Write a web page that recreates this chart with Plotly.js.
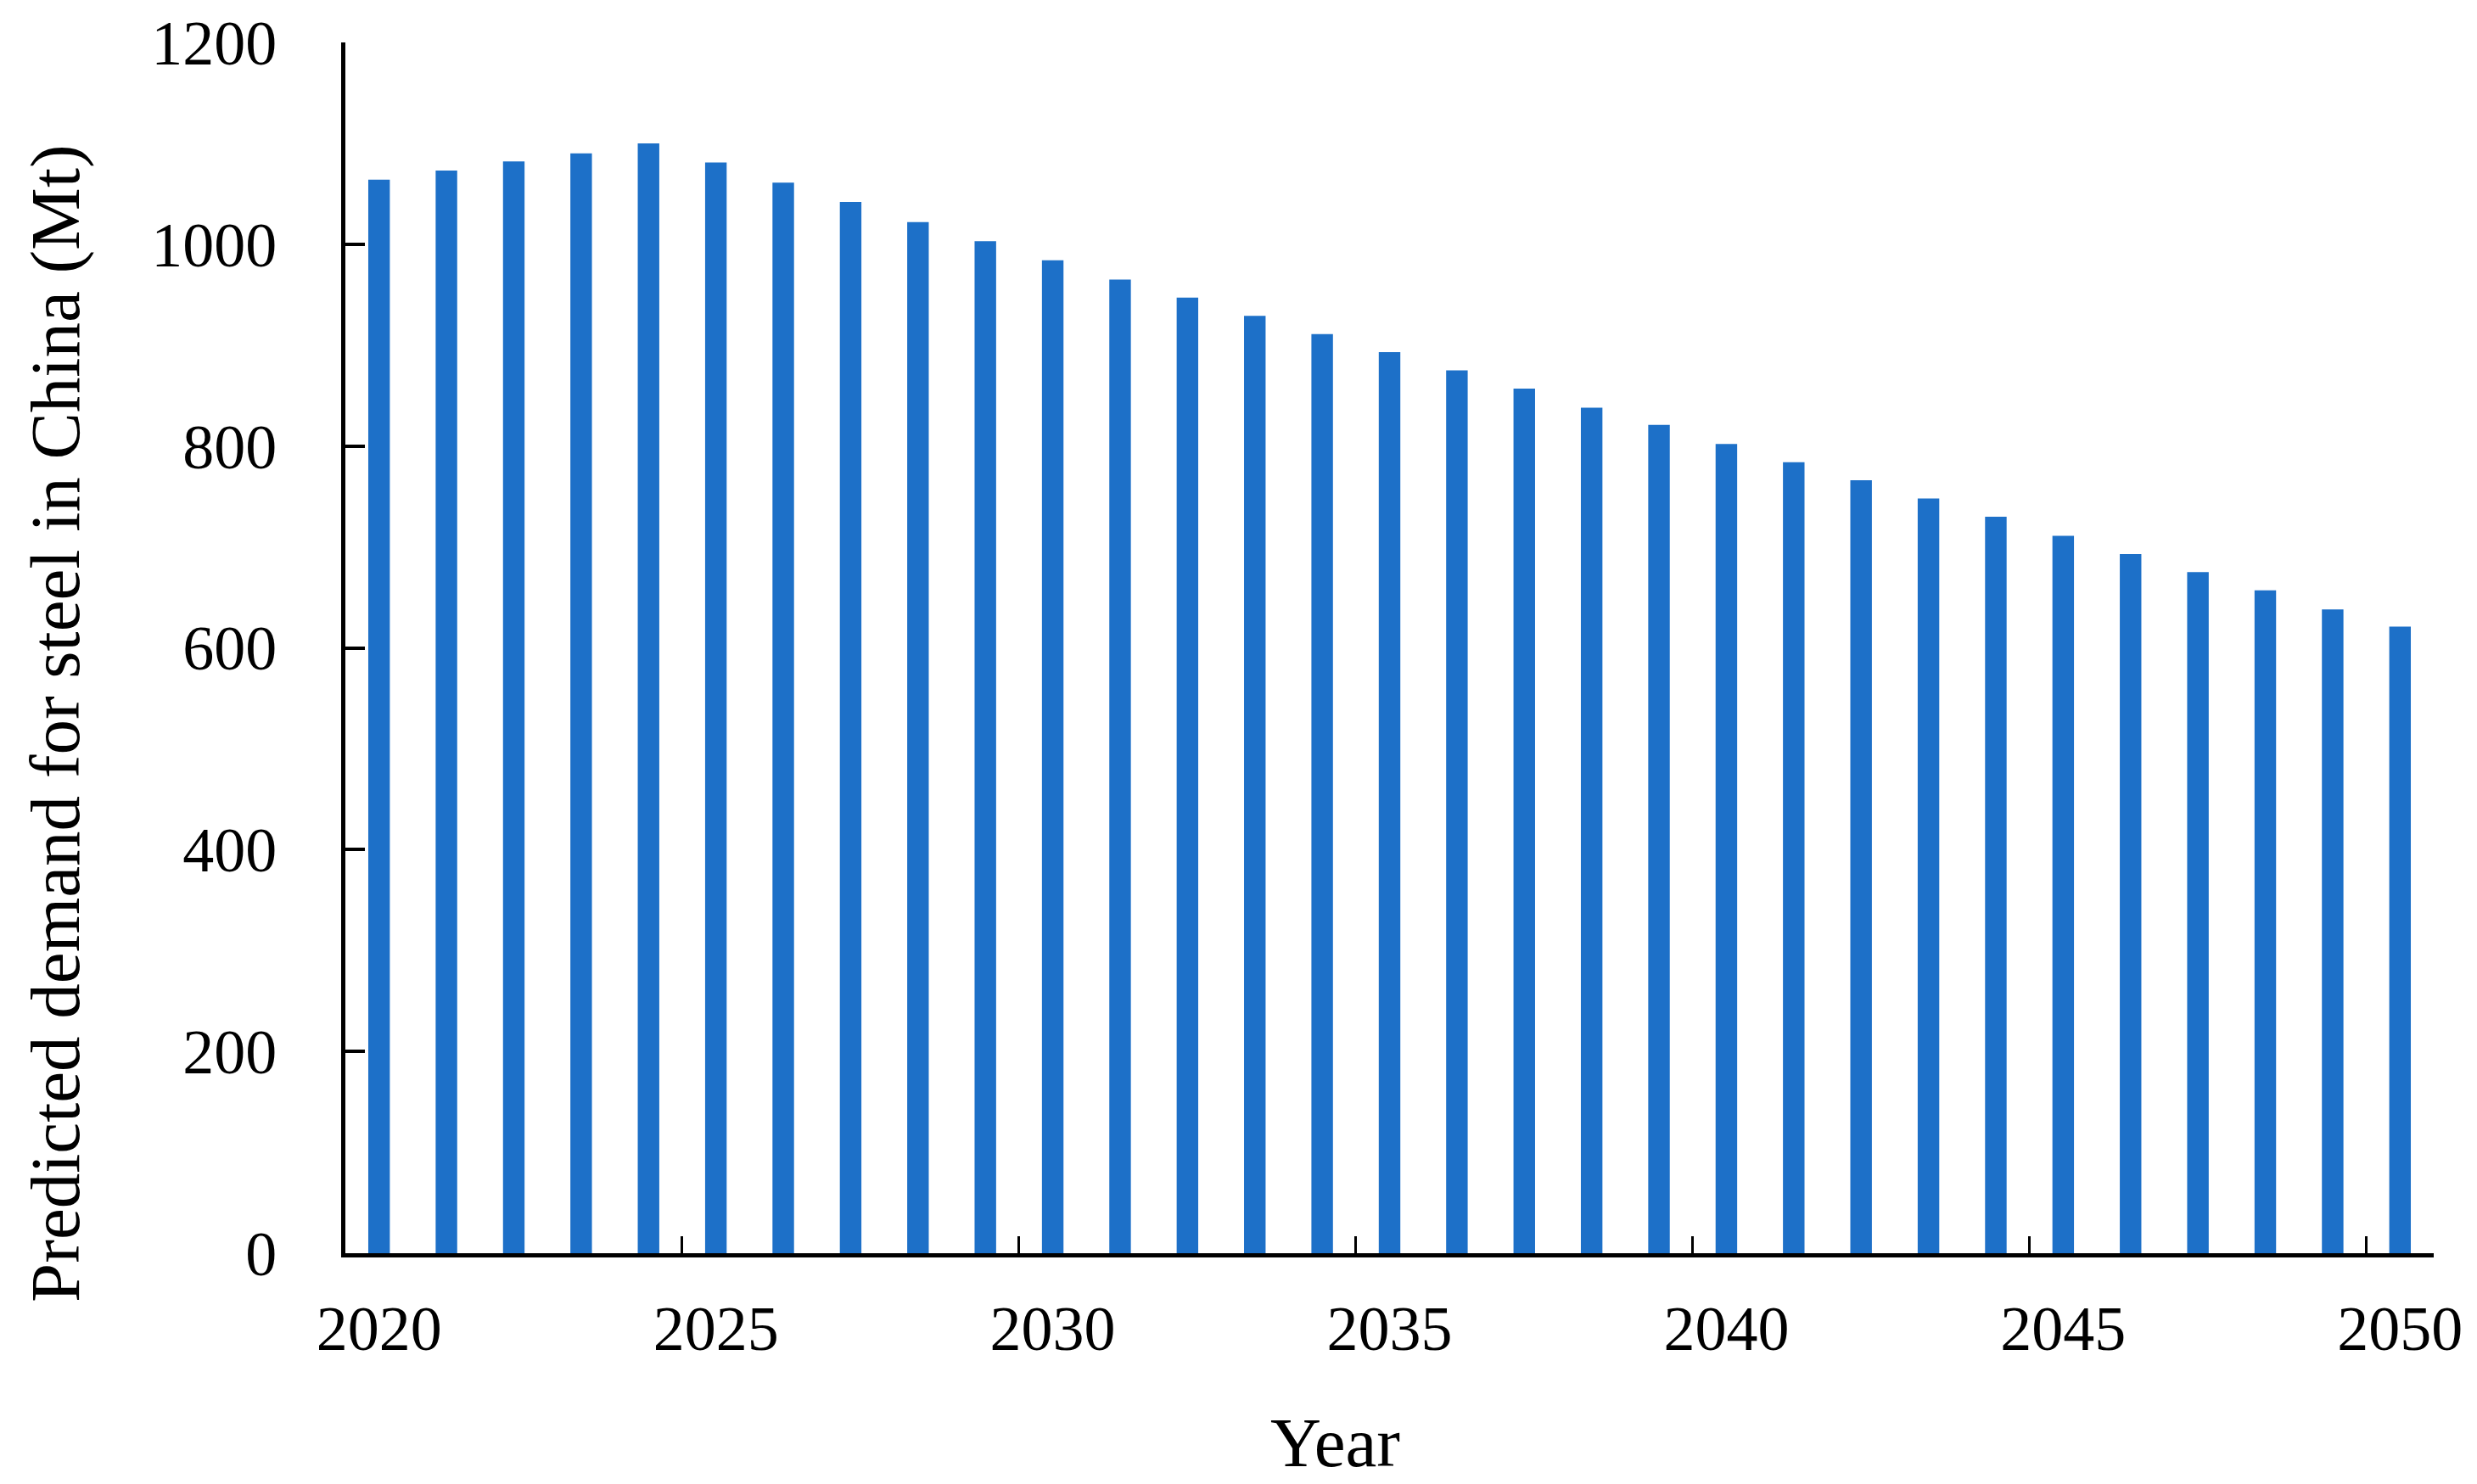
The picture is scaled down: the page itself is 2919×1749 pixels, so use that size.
<!DOCTYPE html>
<html>
<head>
<meta charset="utf-8">
<script src="https://cdn.plot.ly/plotly-3.0.1.min.js"></script>
<style>html,body{margin:0;padding:0;background:#fff;}#chart{width:2919px;height:1749px;}</style>
</head>
<body>
<div id="chart"></div>
<script>
const years = [2020,2021,2022,2023,2024,2025,2026,2027,2028,2029,2030,2031,2032,2033,2034,2035,2036,2037,2038,2039,2040,2041,2042,2043,2044,2045,2046,2047,2048,2049,2050];
const demand = [1064,1073,1082,1090,1100,1081,1061,1042,1022,1003,984,965,947,929,911,893,875,857,838,821,802,784,766,748,730,711,693,675,657,638,621];
const labelYears = [2020,2025,2030,2035,2040,2045,2050];
const dividerTicks = [2024.5,2029.5,2034.5,2039.5,2044.5,2049.5];
const yTicks = [0,200,400,600,800,1000,1200];
const xTitle = 'Year';
const yTitle = 'Predicted demand for steel in China (Mt)';

const font = "'Liberation Serif', 'Times New Roman', serif";

const trace = {
  type: 'bar',
  x: years,
  y: demand,
  width: 0.32,
  marker: {color: '#1d70c8', line: {width: 0}},
  hoverinfo: 'x+y'
};

const layout = {
  width: 2919,
  height: 1749,
  margin: {l: 407, r: 51, t: 50, b: 272, pad: 0},
  paper_bgcolor: '#ffffff',
  plot_bgcolor: '#ffffff',
  showlegend: false,
  font: {family: font, color: '#000000', size: 74},
  xaxis: {
    range: [2019.5, 2050.5],
    tickmode: 'array',
    tickvals: labelYears,
    ticktext: labelYears.map(String),
    ticks: '',
    showgrid: false,
    zeroline: false,
    showline: true,
    linecolor: '#000000',
    linewidth: 5,
    tickfont: {family: font, size: 74, color: '#000000'},
    ticklabelstandoff: 20,
    minor: {
      tickmode: 'array',
      tickvals: dividerTicks,
      ticks: 'inside',
      ticklen: 20,
      tickwidth: 3,
      tickcolor: '#000000',
      showgrid: false
    }
  },
  yaxis: {
    range: [0, 1200],
    tickmode: 'array',
    tickvals: yTicks,
    ticktext: yTicks.map(String),
    ticks: 'inside',
    ticklen: 23,
    tickwidth: 4,
    tickcolor: '#000000',
    showgrid: false,
    zeroline: false,
    showline: true,
    linecolor: '#000000',
    linewidth: 5,
    tickfont: {family: font, size: 74, color: '#000000'},
    ticklabelstandoff: 61
  },
  annotations: [
    {
      text: xTitle, xref: 'paper', yref: 'paper', x: 0.4738, y: -0.156,
      xanchor: 'center', yanchor: 'middle', showarrow: false,
      font: {family: font, size: 83, color: '#000000'}
    },
    {
      text: yTitle, xref: 'paper', yref: 'paper', x: -0.139, y: 0.438,
      xanchor: 'center', yanchor: 'middle', textangle: -90, showarrow: false,
      font: {family: font, size: 83, color: '#000000'}
    }
  ]
};

Plotly.newPlot('chart', [trace], layout, {displayModeBar: false, staticPlot: true});
</script>
</body>
</html>
